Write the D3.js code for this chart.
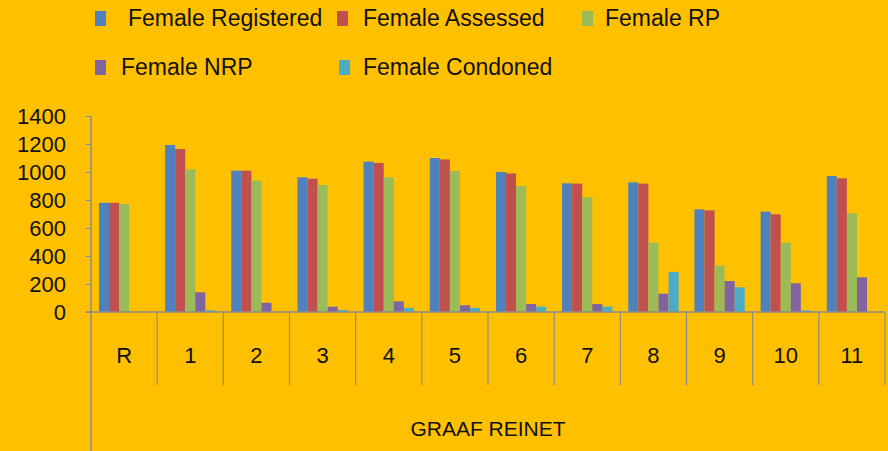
<!DOCTYPE html>
<html lang="en">
<head>
<meta charset="UTF-8">
<title>Graaf Reinet</title>
<style>
    body { margin: 0; background: #ffc000; }
    svg { display: block; font-family: "Liberation Sans", Arial, sans-serif; }
</style>
</head>
<body>
<svg id="chart" width="888" height="451"></svg>
<script src="https://d3js.org/d3.v7.min.js"></script>
<script>
// data
var categories = ["R", "1", "2", "3", "4", "5", "6", "7", "8", "9", "10", "11"];
var series = ["Female Registered", "Female Assessed", "Female RP", "Female NRP", "Female Condoned"];
var registered = [780, 1193, 1009, 962, 1074, 1100, 1000, 919, 926, 733, 717, 971];
var assessed   = [780, 1164, 1009, 952, 1064, 1090, 990, 917, 917, 726, 698, 955];
var rp         = [772, 1019, 938, 907, 962, 1007, 900, 819, 495, 331, 495, 705];
var nrp        = [0, 141, 66, 38, 76, 48, 57, 57, 131, 221, 205, 248];
var condoned   = [0, 12, 0, 14, 29, 29, 38, 38, 286, 176, 12, 0];
var yTicks = [0, 200, 400, 600, 800, 1000, 1200, 1400];
var groupLabel = "GRAAF REINET";

var values = [registered, assessed, rp, nrp, condoned];
var colors = ["#4f81bd", "#c0504d", "#9bbb59", "#8064a2", "#4bacc6"];
var axisColor = "#8c8c8c";

var svg = d3.select("#chart");

var x0 = d3.scaleBand().domain(categories).range([91, 885]);
var pad = x0.bandwidth() * 0.12;
var x1 = d3.scaleBand().domain(series).range([pad, x0.bandwidth() - pad]);
var y = d3.scaleLinear().domain([0, 1400]).range([312, 116]);

// bars
var groups = svg.selectAll(".cat")
    .data(categories)
    .enter().append("g")
    .attr("class", "cat")
    .attr("transform", function(d) { return "translate(" + x0(d) + ",0)"; });

groups.selectAll("rect")
    .data(function(d, i) {
        return series.map(function(s, j) { return { s: s, v: values[j][i], c: colors[j] }; });
    })
    .enter().append("rect")
    .attr("x", function(d) { return x1(d.s); })
    .attr("width", x1.bandwidth())
    .attr("y", function(d) { return y(d.v); })
    .attr("height", function(d) { return y(0) - y(d.v); })
    .attr("fill", function(d) { return d.c; });

// y axis
var yAxis = svg.append("g")
    .attr("transform", "translate(91,0)")
    .call(d3.axisLeft(y).tickValues(yTicks).tickFormat(d3.format("d")).tickSize(5).tickPadding(20));
yAxis.select(".domain").remove();
yAxis.selectAll("line").attr("stroke", axisColor);
yAxis.selectAll("text").attr("font-size", 22).attr("fill", "#111").attr("dy", "0.36em")
    .attr("font-family", "Liberation Sans, Arial, sans-serif");

svg.append("line")
    .attr("x1", 91).attr("x2", 91).attr("y1", y(1400)).attr("y2", 451)
    .attr("stroke", axisColor).attr("stroke-width", 1.5);

// x axis line and category separators
svg.append("line")
    .attr("x1", 86).attr("x2", 885).attr("y1", y(0)).attr("y2", y(0))
    .attr("stroke", axisColor).attr("stroke-width", 1.5);

svg.selectAll(".sep")
    .data(categories.slice(1).concat(["end"]))
    .enter().append("line")
    .attr("class", "sep")
    .attr("x1", function(d, i) { return i < categories.length - 1 ? x0(d) : 885; })
    .attr("x2", function(d, i) { return i < categories.length - 1 ? x0(d) : 885; })
    .attr("y1", y(0)).attr("y2", 385)
    .attr("stroke", axisColor).attr("stroke-width", 1.2);

svg.selectAll(".catlabel")
    .data(categories)
    .enter().append("text")
    .attr("x", function(d) { return x0(d) + x0.bandwidth() / 2; })
    .attr("y", 363)
    .attr("text-anchor", "middle")
    .attr("font-size", 22)
    .attr("fill", "#111")
    .text(function(d) { return d; });

svg.append("text")
    .attr("x", 488).attr("y", 436)
    .attr("text-anchor", "middle")
    .attr("font-size", 21)
    .attr("fill", "#111")
    .text(groupLabel);

// legend
var legendPos = [[95, 18], [337, 18], [582, 18], [95, 67], [339, 67]];
var textGap = [33, 26, 23, 26, 24];
var legend = svg.selectAll(".leg")
    .data(series)
    .enter().append("g")
    .attr("class", "leg")
    .attr("transform", function(d, i) { return "translate(" + legendPos[i][0] + "," + legendPos[i][1] + ")"; });

legend.append("rect")
    .attr("x", 0).attr("y", -7)
    .attr("width", 11).attr("height", 15)
    .attr("fill", function(d, i) { return colors[i]; });

legend.append("text")
    .attr("x", function(d, i) { return textGap[i]; })
    .attr("y", 8)
    .attr("font-size", 23)
    .attr("fill", "#111")
    .text(function(d) { return d; });
</script>
</body>
</html>
